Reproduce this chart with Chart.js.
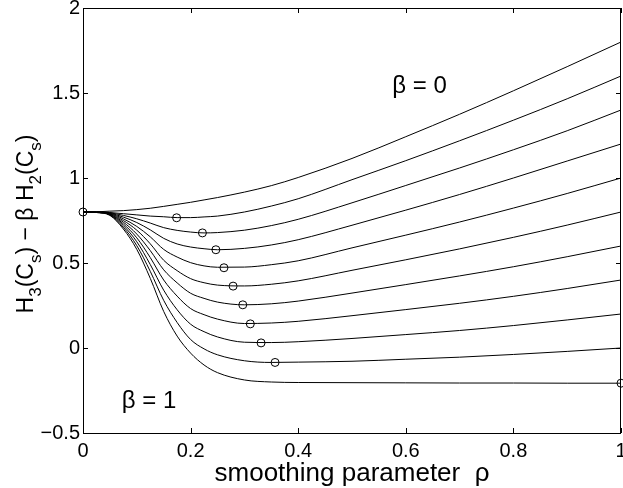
<!DOCTYPE html>
<html>
<head>
<meta charset="utf-8">
<script src="https://cdn.jsdelivr.net/npm/chart.js@4.4.1/dist/chart.umd.min.js"></script>
<style>
  html, body { margin: 0; padding: 0; background: #fff; }
  #chart { display: block; }
</style>
</head>
<body>
<canvas id="chart" width="623" height="488"></canvas>
<script>
// smoothing parameter values (x)
const rho = [0, 0.025, 0.05, 0.075, 0.1, 0.125, 0.15, 0.175, 0.2, 0.225, 0.25, 0.3, 0.35, 0.4, 0.5, 0.6, 0.7, 0.8, 0.9, 1.0];

// one curve per beta = 0, 0.1, ..., 1
const beta00 = [0.8, 0.801, 0.805, 0.808, 0.814, 0.822, 0.833, 0.845, 0.857, 0.871, 0.885, 0.917, 0.955, 1.003, 1.115, 1.243, 1.375, 1.513, 1.655, 1.80];
const beta01 = [0.8, 0.8, 0.797, 0.79, 0.783, 0.776, 0.772, 0.767, 0.767, 0.771, 0.776, 0.80, 0.835, 0.878, 0.99, 1.102, 1.219, 1.34, 1.466, 1.60];
const beta02 = [0.8, 0.8, 0.795, 0.78, 0.76, 0.735, 0.708, 0.692, 0.682, 0.677, 0.679, 0.693, 0.72, 0.757, 0.854, 0.956, 1.059, 1.166, 1.278, 1.40];
const beta03 = [0.8, 0.799, 0.793, 0.77, 0.738, 0.695, 0.645, 0.612, 0.594, 0.584, 0.578, 0.586, 0.606, 0.637, 0.722, 0.811, 0.903, 1.0, 1.10, 1.20];
const beta04 = [0.8, 0.799, 0.791, 0.76, 0.715, 0.654, 0.58, 0.535, 0.502, 0.483, 0.475, 0.476, 0.49, 0.513, 0.589, 0.664, 0.741, 0.823, 0.909, 1.0];
const beta05 = [0.8, 0.799, 0.789, 0.75, 0.693, 0.613, 0.516, 0.455, 0.408, 0.384, 0.37, 0.365, 0.375, 0.395, 0.457, 0.519, 0.583, 0.651, 0.723, 0.80];
const beta06 = [0.8, 0.798, 0.787, 0.74, 0.67, 0.573, 0.46, 0.383, 0.322, 0.292, 0.27, 0.254, 0.26, 0.276, 0.323, 0.373, 0.424, 0.478, 0.537, 0.60];
const beta07 = [0.8, 0.798, 0.786, 0.73, 0.648, 0.532, 0.40, 0.305, 0.232, 0.196, 0.17, 0.144, 0.147, 0.157, 0.19, 0.226, 0.263, 0.304, 0.35, 0.40];
const beta08 = [0.8, 0.798, 0.784, 0.72, 0.625, 0.491, 0.34, 0.225, 0.14, 0.096, 0.065, 0.034, 0.032, 0.037, 0.056, 0.079, 0.103, 0.132, 0.165, 0.20];
const beta09 = [0.8, 0.797, 0.782, 0.71, 0.602, 0.451, 0.28, 0.15, 0.05, -0.005, -0.04, -0.075, -0.085, -0.083, -0.078, -0.066, -0.054, -0.038, -0.02, 0.0];
const beta10 = [0.8, 0.797, 0.78, 0.70, 0.58, 0.41, 0.215, 0.07, -0.03, -0.10, -0.145, -0.188, -0.2, -0.203, -0.204, -0.205, -0.206, -0.206, -0.207, -0.207];

const curves = [beta00, beta01, beta02, beta03, beta04, beta05, beta06, beta07, beta08, beta09, beta10];

// minimum of each curve (circle markers)
const minRho = [0, 0.174, 0.222, 0.247, 0.262, 0.279, 0.297, 0.311, 0.331, 0.357, 1.0];
const minVal = [0.8, 0.766, 0.677, 0.578, 0.472, 0.364, 0.254, 0.142, 0.030, -0.085, -0.207];

// ticks
const xTicks = [0, 0.2, 0.4, 0.6, 0.8, 1];
const yTicks = [-0.5, 0, 0.5, 1, 1.5, 2];

// text labels inside the plot: [rho, value, text]
const notes = [[0.575, 1.54, "\u03b2 = 0"], [0.072, -0.315, "\u03b2 = 1"]];

const FONT = "'Liberation Sans', Arial, Helvetica, sans-serif";

const datasets = curves.map((vals, i) => ({
  label: "beta " + (i / 10),
  data: rho.map((r, j) => ({ x: r, y: vals[j] })),
  borderColor: "#000",
  borderWidth: 1,
  pointRadius: 0,
  fill: false,
  cubicInterpolationMode: "monotone"
}));

datasets.push({
  type: "scatter",
  label: "minimum",
  data: minRho.map((r, i) => ({ x: r, y: minVal[i] })),
  showLine: false,
  pointStyle: "circle",
  pointRadius: 4,
  pointBorderWidth: 1,
  pointBorderColor: "#000",
  pointBackgroundColor: "rgba(255,255,255,0)",
  clip: false
});

// keep the plot box running to 2px from the right edge, like the original
const rightEdge = {
  id: "rightEdge",
  afterLayout(chart) {
    const a = chart.chartArea;
    const xs = chart.scales.x;
    const target = chart.width - 2;
    if (a.right < target) {
      a.right = target;
      a.width = a.right - a.left;
      xs.right = target;
      xs.width = target - xs.left;
      xs.configure();
    }
  }
};

// inward MATLAB style ticks, box, x tick labels, axis titles and notes
const decor = {
  id: "decor",
  afterDraw(chart) {
    const ctx = chart.ctx;
    const a = chart.chartArea;
    const xs = chart.scales.x, ys = chart.scales.y;
    ctx.save();
    ctx.strokeStyle = "#000";
    ctx.lineWidth = 1;
    ctx.beginPath();
    xTicks.forEach(t => {
      const px = Math.round(xs.getPixelForValue(t)) + 0.5;
      ctx.moveTo(px, a.bottom); ctx.lineTo(px, a.bottom - 5);
      ctx.moveTo(px, a.top); ctx.lineTo(px, a.top + 5);
    });
    yTicks.forEach(t => {
      const py = Math.round(ys.getPixelForValue(t)) + 0.5;
      ctx.moveTo(a.left, py); ctx.lineTo(a.left + 5, py);
      ctx.moveTo(a.right, py); ctx.lineTo(a.right - 5, py);
    });
    ctx.stroke();
    ctx.strokeRect(Math.round(a.left) + 0.5, Math.round(a.top) + 0.5,
      Math.round(a.right - a.left) - 1, Math.round(a.bottom - a.top));

    ctx.fillStyle = "#000";
    // x tick labels
    ctx.font = "20px " + FONT;
    ctx.textAlign = "center";
    ctx.textBaseline = "alphabetic";
    xTicks.forEach(t => {
      ctx.fillText(String(t), xs.getPixelForValue(t), a.bottom + 24);
    });

    // notes
    ctx.font = "24px " + FONT;
    ctx.textBaseline = "middle";
    ctx.textAlign = "left";
    notes.forEach(n => {
      ctx.fillText(n[2], xs.getPixelForValue(n[0]), ys.getPixelForValue(n[1]));
    });

    // x title
    ctx.font = "26px " + FONT;
    ctx.textAlign = "center";
    ctx.textBaseline = "alphabetic";
    ctx.fillText("smoothing parameter  \u03c1", (a.left + a.right) / 2, 481);

    // y title with subscripts
    const parts = [
      ["H", 0], ["3", 1], ["(C", 0], ["s", 1], [") \u2212 \u03b2 H", 0], ["2", 1], ["(C", 0], ["s", 1], [")", 0]
    ];
    const big = "23px " + FONT, small = "17px " + FONT;
    let total = 0;
    parts.forEach(p => { ctx.font = p[1] ? small : big; total += ctx.measureText(p[0]).width; });
    ctx.translate(33, 224);
    ctx.rotate(-Math.PI / 2);
    ctx.textAlign = "left";
    let x = -total / 2;
    parts.forEach(p => {
      ctx.font = p[1] ? small : big;
      ctx.fillText(p[0], x, p[1] ? 8 : 0);
      x += ctx.measureText(p[0]).width;
    });
    ctx.restore();
  }
};

new Chart(document.getElementById("chart"), {
  type: "line",
  data: { datasets },
  options: {
    responsive: false,
    animation: false,
    layout: { padding: { top: 8, right: 2, left: 0, bottom: 0 } },
    plugins: { legend: { display: false }, tooltip: { enabled: false } },
    scales: {
      x: {
        type: "linear",
        min: 0, max: 1,
        afterBuildTicks: s => { s.ticks = xTicks.map(v => ({ value: v })); },
        afterFit: s => { s.height = 55; s.paddingLeft = 0; s.paddingRight = 0; },
        grid: { display: false, drawTicks: false },
        border: { display: false },
        ticks: { display: false }
      },
      y: {
        type: "linear",
        min: -0.5, max: 2,
        afterBuildTicks: s => { s.ticks = yTicks.map(v => ({ value: v })); },
        afterFit: s => { s.width = 83; s.paddingTop = 0; s.paddingBottom = 0; s.paddingLeft = 0; s.paddingRight = 0; },
        grid: { display: false, drawTicks: false },
        border: { display: false },
        ticks: {
          color: "#000", padding: 3,
          font: { family: FONT, size: 20 },
          callback: v => (v < 0 ? "\u2212" + Math.abs(v) : String(v))
        }
      }
    }
  },
  plugins: [rightEdge, decor]
});
</script>
</body>
</html>
